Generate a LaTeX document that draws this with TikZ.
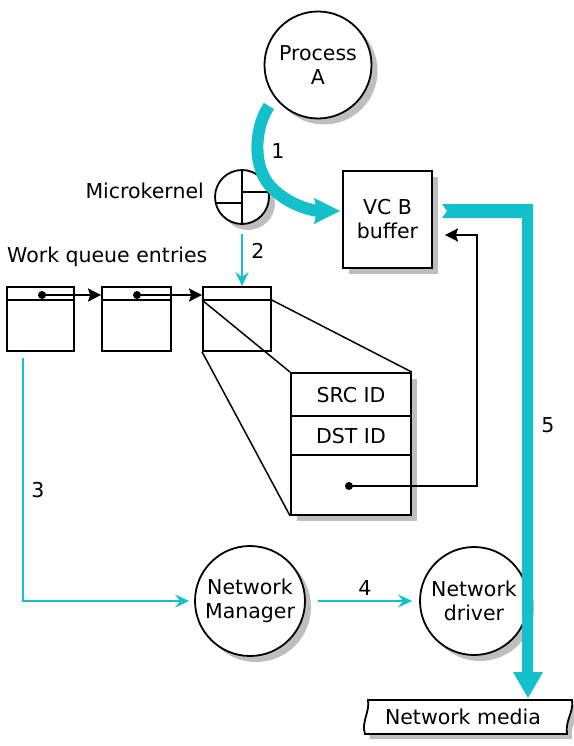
\documentclass[tikz,border=0pt]{standalone}
\usepackage{fontspec}
\setmainfont{DejaVu Sans}
\usetikzlibrary{arrows.meta,shadows,calc}
\definecolor{cy}{RGB}{20,192,202}
\definecolor{shd}{RGB}{190,190,190}
\begin{document}
\begin{tikzpicture}[x=1pt,y=-1pt,
  font=\fontsize{20.5}{24}\selectfont,
  shad/.style={drop shadow={shadow xshift=6pt,shadow yshift=-6pt,fill=shd,opacity=1}},
  circ/.style={circle,draw,line width=1.8pt,fill=white,shad,inner sep=0pt,align=center},
  box/.style={rectangle,draw,line width=1.8pt,fill=white,inner sep=0pt,align=center},
  thinarrow/.style={cy,line width=1.8pt,-{Stealth[length=14pt,width=13pt,inset=5pt]}},
  ptr/.style={line width=1.8pt,-{Stealth[length=13pt,width=13pt,inset=2pt]}},
  dotm/.style={circle,fill,inner sep=0pt,minimum size=8pt},
  lbl/.style={inner sep=0pt},
  blk/.style={line width=1.8pt}]
\useasboundingbox (0,0) rectangle (573,746);

% Process A
\node[circ,minimum size=107pt] (pa) at (318,65) {Process\\A};

% Microkernel
\node[circ,minimum size=54pt] (mk) at (242,197) {};
\draw[blk] (mk.north) -- (mk.south);
\draw[blk] ($(mk.center)+(0,-5)$) -- ++(26.5,0);
\draw[blk] ($(mk.center)+(0,6)$) -- ++(-26.3,0);
\node[lbl,anchor=base east] (mkl) at (204,198) {Microkernel};

% VC B buffer
\node[box,shad,minimum width=89pt,minimum height=97pt] (vcb) at (387.5,219.5) {VC\ B\\buffer};

% Work queue
\node[lbl,anchor=base west] (wq) at (7,262) {Work queue entries};
\node[box,minimum width=67pt,minimum height=64pt] (q1) at (40.5,319) {};
\node[box,minimum width=69pt,minimum height=64pt] (q2) at (136.5,319) {};
\node[box,minimum width=68pt,minimum height=64pt] (q3) at (237,319) {};
\foreach \q in {q1,q2,q3}
  \draw[blk] ($(\q.north west)+(0,14)$) -- ($(\q.north east)+(0,14)$);
\node[dotm] (d1) at (42,295) {};
\node[dotm] (d2) at (137,295) {};
\draw[ptr] (d1.center) -- (d1.center -| q2.west);
\draw[ptr] (d2.center) -- (d2.center -| q3.west);

% expanded entry
\node[box,shad,minimum width=120pt,minimum height=142pt] (ex) at (351,444) {};
\draw[blk] ($(ex.north west)+(0,44)$) -- ($(ex.north east)+(0,44)$);
\draw[blk] ($(ex.north west)+(0,83)$) -- ($(ex.north east)+(0,83)$);
\node[lbl] (src) at (351,395) {SRC ID};
\node[lbl] (dst) at (351,436) {DST ID};
\draw[line width=1.5pt] ($(q3.north west)+(0,14)$) -- (ex.north west);
\draw[line width=1.5pt] ($(q3.north east)+(0,14)$) -- (ex.north east);
\draw[line width=1.5pt] (q3.south west) -- (ex.south west);
\node[dotm] (d3) at (349,486) {};
\coordinate (cb) at (477,235);
\draw[ptr,shorten >=12pt] (d3.center) -| (cb) -- (cb -| vcb.east);

% Network manager / driver
\node[circ,minimum size=110pt] (nm) at (250,601) {Network\\Manager};
\node[circ,minimum size=108pt] (nd) at (474,601) {Network\\driver};

% thin cyan arrows
\draw[thinarrow] ($(mk.south)+(0,9)$) -- (mk.south |- q3.north);
\node[lbl] (l2) at (258,251) {2};
\coordinate (s3) at (23,358);
\draw[thinarrow,shorten >=5pt] (s3) |- (nm.west);
\node[lbl] (l3) at (38,490) {3};
\draw[thinarrow,shorten <=12pt,shorten >=7pt] (nm.east) -- (nd.west);
\node[lbl] (l4) at (365,588) {4};

% thick arrow 1
\coordinate (a1s) at (269,106);
\coordinate (a1e) at (318,211);
\draw[cy,line width=12pt] (a1s) .. controls (254,128) and (252,168) .. (272,188)
   .. controls (282,198) and (298,208) .. (a1e);
\fill[cy] (314,198) -- (340,211) -- (314,224) -- (317,211) -- cycle;
\node[lbl] (l1) at (278,151) {1};

% Network media
\fill[shd,shift={(5,5)}] (368,700) -- (572,700) .. controls (574,712) and (565,720) .. (567,734)
   -- (365,734) .. controls (361,722) and (370,712) .. cycle;
\draw[blk,fill=white] (368,700) -- (572,700) .. controls (574,712) and (565,720) .. (567,734)
   -- (365,734) .. controls (361,722) and (370,712) .. cycle;
\node[lbl] (med) at (463,717) {Network media};

% thick arrow 5
\fill[cy] (442,204) -- (533,204) -- (533,672) -- (543,672) -- (528,698) -- (513,672)
   -- (522,672) -- (522,218) -- (442,218) -- (447,211) -- cycle;
\node[lbl] (l5) at (548,425) {5};
\end{tikzpicture}
\end{document}
